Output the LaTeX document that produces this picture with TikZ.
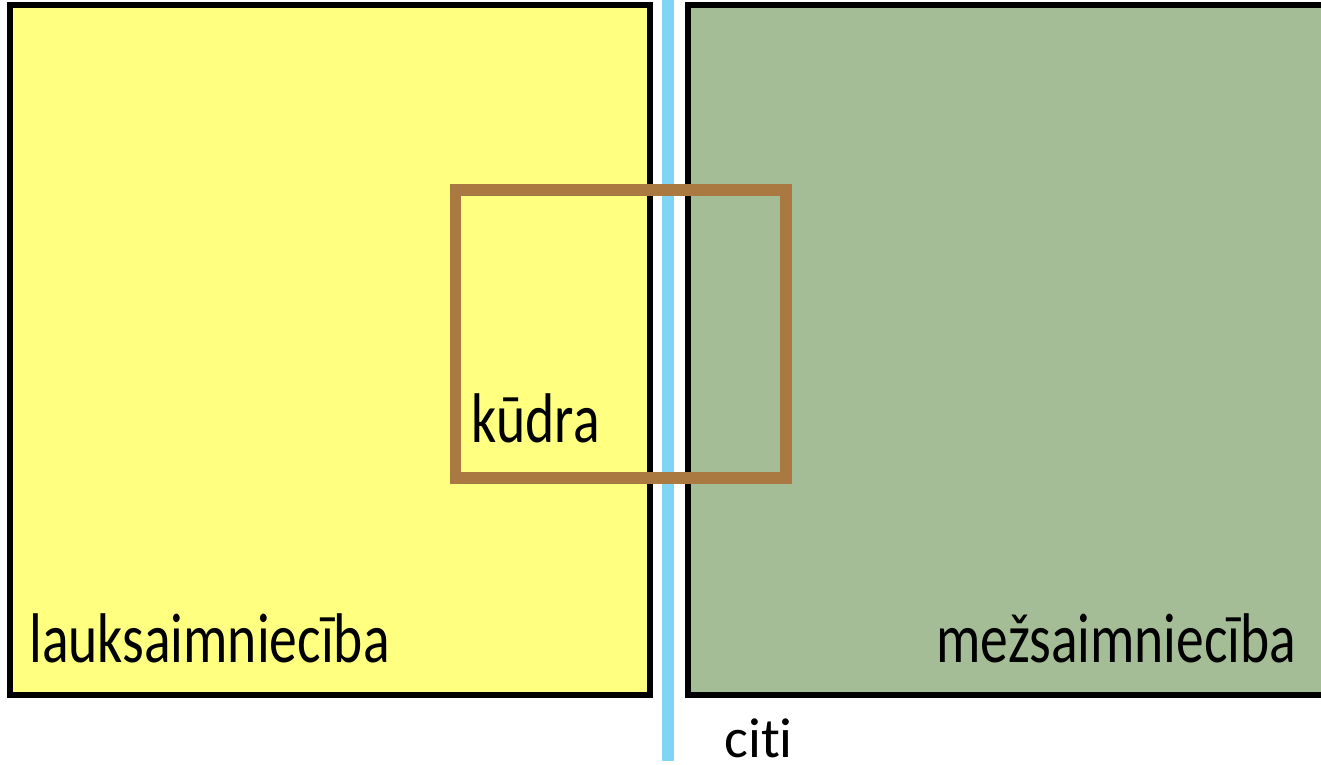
\documentclass[tikz,border=0pt]{standalone}
\usepackage{fontspec}
\setmainfont[Ligatures=NoCommon]{Carlito}
\newfontfamily\narrowfont[FakeStretch=0.79, Ligatures=NoCommon]{Carlito}
\definecolor{laukcolor}{RGB}{255,255,128}
\definecolor{mezcolor}{RGB}{164,189,150}
\definecolor{upecolor}{RGB}{128,212,246}
\definecolor{kudracolor}{RGB}{170,121,66}
\tikzset{
  area/.style={draw=black, line width=3.4pt},
  label/.style={inner sep=0pt, font=\narrowfont\fontsize{40}{40}\selectfont},
}

\begin{document}
\begin{tikzpicture}[x=0.2mm, y=-0.2mm]
\clip (0,0) rectangle (1321,765);
\fill[white] (0,0) rectangle (1321,765);
\draw[area, fill=laukcolor] (10,5) rectangle (650,695); %lauki
\draw[area, fill=mezcolor] (688,5) rectangle (1360,695); %meži
\draw[upecolor, line width=6.8pt] (668,0)--(668,761);
\draw[kudracolor, line width=6.8pt] (455.5,190) rectangle (786,478);

\node[label, anchor=base west] (lauk) at (29,662) {lauksaimniecība};
\node[label, anchor=base east] (mez) at (1297,662) {mežsaimniecība};
\node[label, anchor=base west] (kudra) at (471,443) {kūdra};
\node[inner sep=0pt, anchor=base west, font=\fontsize{32}{32}\selectfont] (citi) at (724,757) {citi};
\end{tikzpicture}
\end{document}
